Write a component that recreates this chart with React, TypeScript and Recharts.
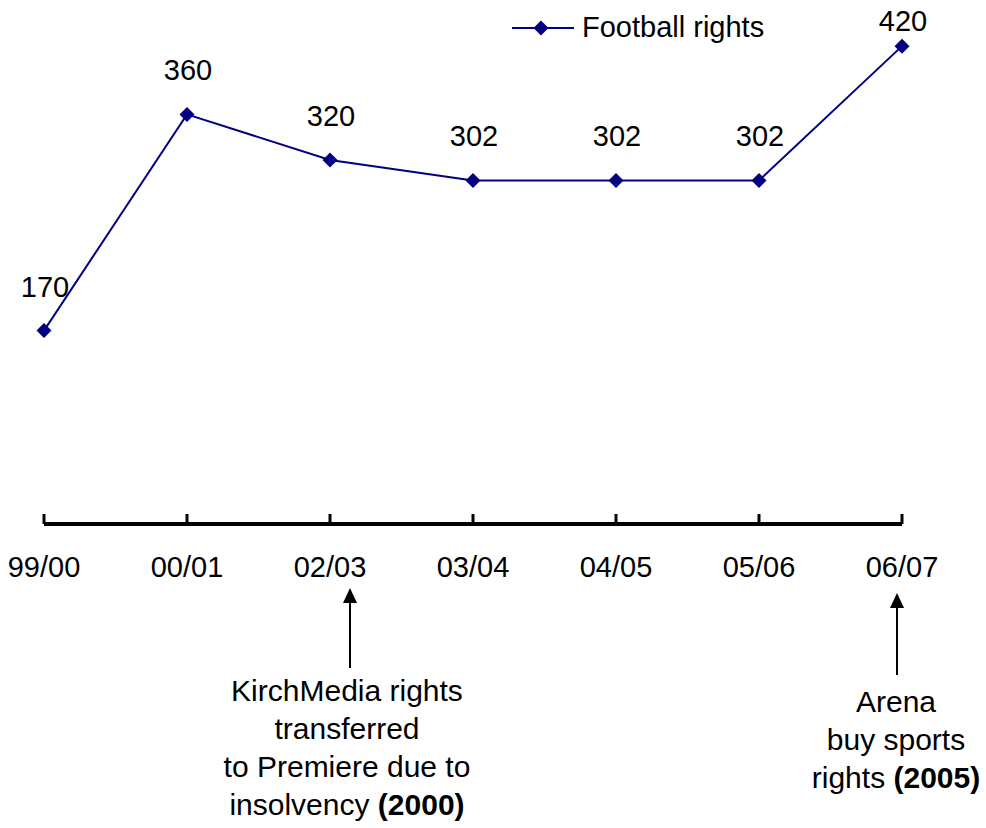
import { LineChart, Line, XAxis, YAxis, LabelList } from 'recharts';

const seasons = ['99/00', '00/01', '02/03', '03/04', '04/05', '05/06', '06/07'];
const footballRights = [170, 360, 320, 302, 302, 302, 420];
const seriesName = 'Football rights';

// notes hanging under the axis, tied to a season
const notes = [
  { season: '02/03', lines: ['KirchMedia rights', 'transferred', 'to Premiere due to', 'insolvency'], year: '(2000)' },
  { season: '06/07', lines: ['Arena', 'buy sports', 'rights'], year: '(2005)' },
];

const NAVY = '#000080';
const FONT = '"Liberation Sans", Arial, sans-serif';
const FS = 29;

// per-note placement relative to the tick (dx) and axis line (tip / end / first baseline)
const NOTE_LAYOUT: Record<string, { dx: number; tdx: number; tip: number; end: number; text: number }> = {
  '02/03': { dx: 20, tdx: 17, tip: 64, end: 144, text: 177 },
  '06/07': { dx: -5, tdx: -6, tip: 69, end: 151, text: 188 },
};

const data = seasons.map((s, i) => ({ season: s, value: footballRights[i] }));

const Diamond = (props: any) => {
  const { cx, cy } = props;
  if (cx == null || cy == null) return null;
  const r = 7.5;
  return <polygon points={`${cx},${cy - r} ${cx + r},${cy} ${cx},${cy + r} ${cx - r},${cy}`} fill={NAVY} />;
};

const ValueLabel = (props: any) => {
  const { x, y, value, index } = props;
  const up = index === footballRights.length - 1 ? 15 : 34;
  return (
    <text x={x + 1} y={y - up} textAnchor="middle" fontSize={FS} fill="#000" fontFamily={FONT}>
      {value}
    </text>
  );
};

const SeasonTick = (props: any) => {
  const { x, y, payload } = props;
  const note = notes.find((n) => n.season === payload.value);
  const lay = note ? NOTE_LAYOUT[note.season] : null;
  return (
    <g fontFamily={FONT}>
      <line x1={x} x2={x} y1={y - 10} y2={y} stroke="#000" strokeWidth={3} />
      <text x={x} y={y + 53} textAnchor="middle" fontSize={FS} fill="#000">
        {payload.value}
      </text>
      {note && lay && (
        <g>
          <line x1={x + lay.dx} x2={x + lay.dx} y1={y + lay.tip + 12} y2={y + lay.end} stroke="#000" strokeWidth={2} />
          <polygon
            points={`${x + lay.dx},${y + lay.tip} ${x + lay.dx + 7},${y + lay.tip + 15} ${x + lay.dx - 7},${y + lay.tip + 15}`}
            fill="#000"
          />
          {note.lines.map((ln, i) => (
            <text
              key={i}
              x={x + lay.tdx}
              y={y + lay.text + i * 38}
              textAnchor="middle"
              fontSize={30}
              fill="#000"
            >
              {ln}
              {i === note.lines.length - 1 && <tspan fontWeight="bold">{' ' + note.year}</tspan>}
            </text>
          ))}
        </g>
      )}
    </g>
  );
};

export default function App() {
  return (
    <div style={{ position: 'absolute', left: 0, top: 0, width: 986, height: 828, background: '#fff' }}>
      <LineChart width={986} height={828} data={data} margin={{ top: 12, right: 84, left: 44, bottom: 274 }}>
        <XAxis
          dataKey="season"
          height={30}
          tickSize={0}
          tickMargin={0}
          tickLine={false}
          axisLine={{ stroke: '#000', strokeWidth: 4 }}
          tick={<SeasonTick />}
          interval={0}
        />
        <YAxis hide domain={[0, 450]} />
        <Line
          dataKey="value"
          name={seriesName}
          stroke={NAVY}
          strokeWidth={2}
          dot={<Diamond />}
          activeDot={false}
          isAnimationActive={false}
        >
          <LabelList dataKey="value" content={<ValueLabel />} />
        </Line>
      </LineChart>
      {/* legend */}
      <svg width={300} height={60} style={{ position: 'absolute', left: 500, top: 0 }}>
        <line x1={12} x2={74} y1={28} y2={28} stroke={NAVY} strokeWidth={2} />
        <Diamond cx={41} cy={28} />
        <text x={82} y={37} fontSize={FS} fontFamily={FONT} fill="#000">
          {seriesName}
        </text>
      </svg>
    </div>
  );
}
